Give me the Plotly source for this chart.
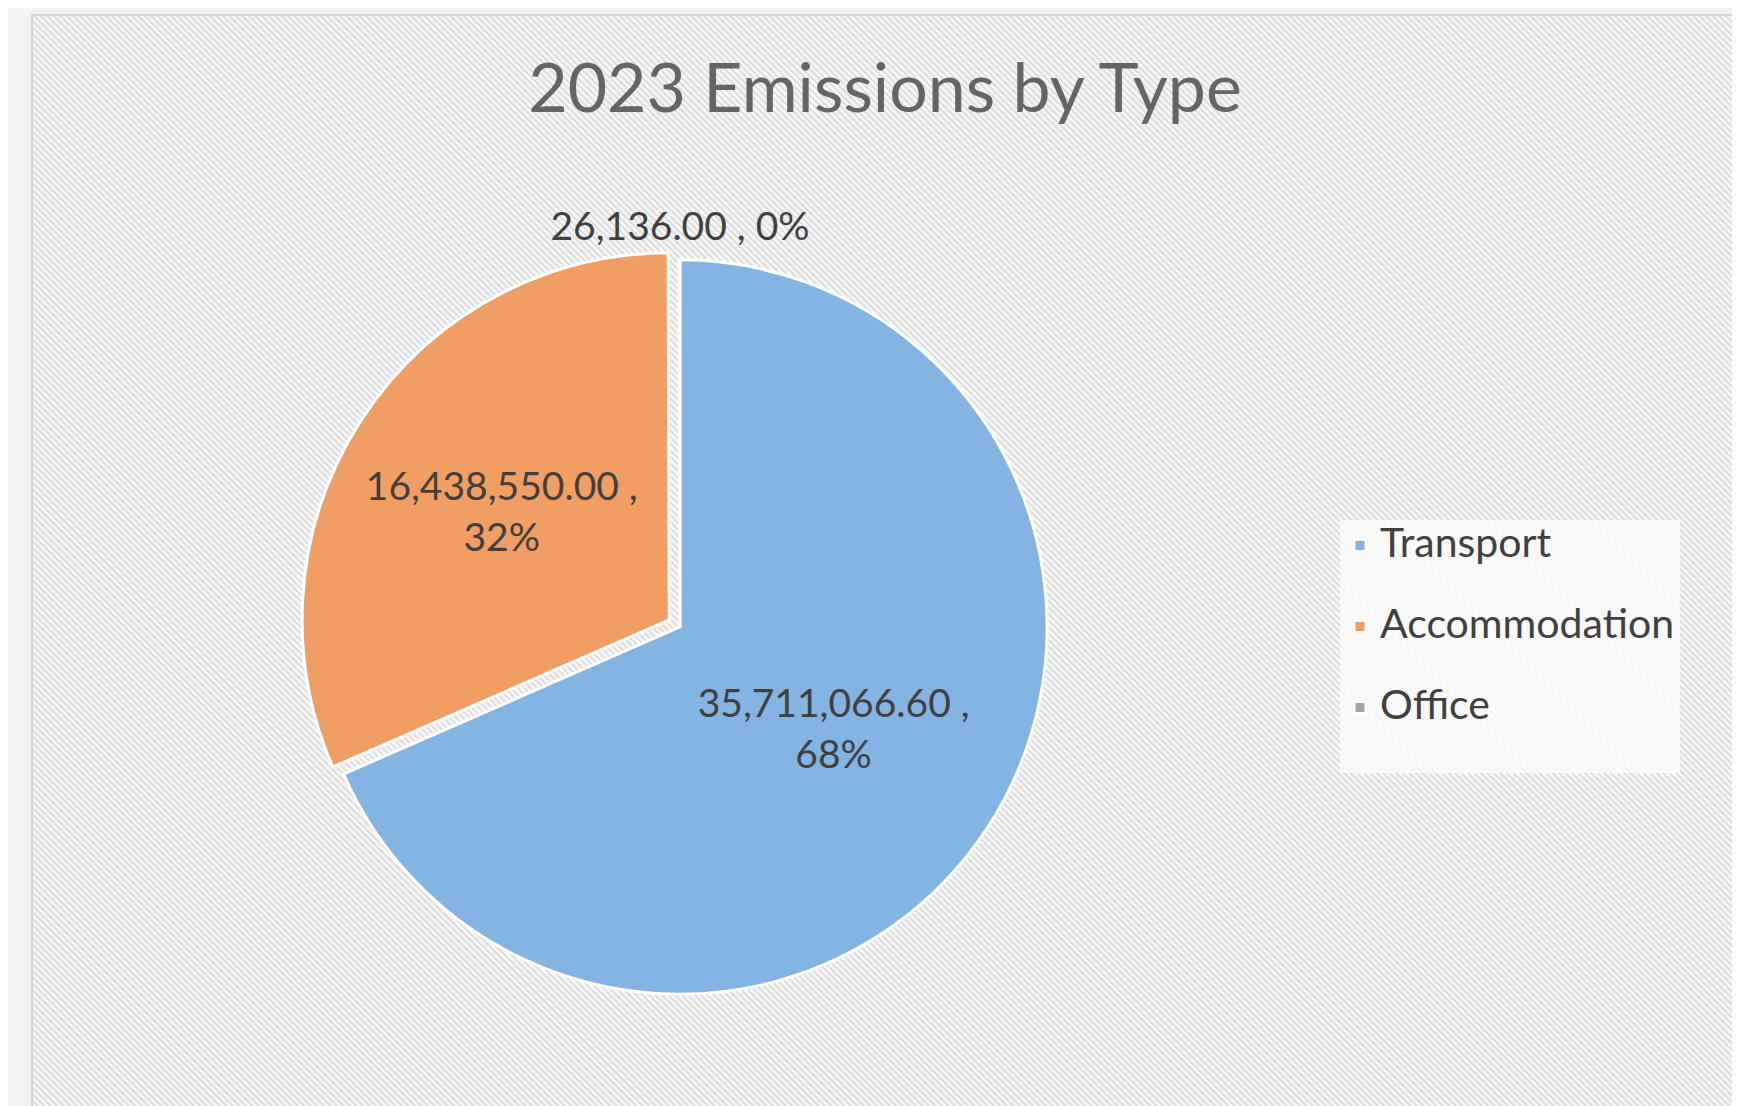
import base64
import plotly.graph_objects as go

# ---- data ----
labels = ["Transport", "Accommodation", "Office"]
values = [35711066.60, 16438550.00, 26136.00]
colors = ["#84b4e2", "#f19e64", "#a5a5a5"]
pulls = [0, 0.035, 0]
text_templates = [
    "%{value:,.2f} ,<br>%{percent:.0%}",
    "%{value:,.2f} ,<br>%{percent:.0%}",
    "",
]
text_positions = ["inside", "inside", "none"]
title_text = "2023 Emissions by Type"

W, H = 1740, 1106
FONT = "Lato, 'Open Sans', sans-serif"
TEXT_COL = "#404040"

# small-slice label (Office) built from the data, shown above the pie
total = sum(values)
office_label = f"{values[2]:,.2f} , {values[2] / total:.0%}"

# legend entries: larger first line + blank second line for Excel-like row spacing
legend_labels = [
    f"<span style='font-size:41px'>{lab}</span><br>\u00a0" for lab in labels
]

# hatched chart-area background (SVG data URI)
bg_w, bg_h = 1703, 1099
svg = (
    f"<svg xmlns='http://www.w3.org/2000/svg' width='{bg_w}' height='{bg_h}'>"
    "<defs><pattern id='p' width='4.6' height='4.6' patternUnits='userSpaceOnUse' "
    "patternTransform='rotate(-45)'>"
    "<rect width='4.6' height='4.6' fill='#f6f6f6'/>"
    "<rect width='1.8' height='4.6' fill='#dcdcdc'/>"
    "</pattern></defs>"
    f"<rect width='{bg_w}' height='{bg_h}' fill='url(#p)'/>"
    "</svg>"
)
svg_uri = "data:image/svg+xml;base64," + base64.b64encode(svg.encode()).decode()

fig = go.Figure(
    go.Pie(
        labels=legend_labels,
        values=values,
        customdata=labels,
        sort=False,
        direction="clockwise",
        rotation=0,
        pull=pulls,
        marker=dict(colors=colors, line=dict(color="#ffffff", width=3)),
        texttemplate=text_templates,
        textposition=text_positions,
        insidetextorientation="horizontal",
        textfont=dict(family=FONT, size=39, color=TEXT_COL),
        title=dict(
            text=office_label,
            position="top center",
            font=dict(family=FONT, size=39, color=TEXT_COL),
        ),
        domain=dict(x=[269 / W, 1075 / W], y=[1 - 999 / H, 1 - 193 / H]),
        showlegend=True,
        hovertemplate="%{customdata}<br>%{value:,.2f}<br>%{percent:.0%}<extra></extra>",
    )
)

fig.update_layout(
    width=W,
    height=H,
    margin=dict(l=0, r=0, t=0, b=0),
    paper_bgcolor="#f4f3f1",
    plot_bgcolor="rgba(0,0,0,0)",
    title=dict(
        text=title_text,
        x=877 / W,
        xanchor="center",
        y=1 - 80 / H,
        yanchor="middle",
        font=dict(family=FONT, size=68, color="#656565"),
    ),
    legend=dict(
        x=1332 / W,
        xanchor="left",
        y=1 - 638 / H,
        yanchor="middle",
        valign="top",
        bgcolor="rgba(250,250,250,0.85)",
        font=dict(family=FONT, size=30, color=TEXT_COL),
        itemwidth=30,
    ),
    images=[
        dict(
            source=svg_uri,
            xref="paper",
            yref="paper",
            x=24 / W,
            y=1 - 7 / H,
            sizex=bg_w / W,
            sizey=bg_h / H,
            xanchor="left",
            yanchor="top",
            sizing="stretch",
            layer="below",
        )
    ],
    shapes=[
        dict(
            type="rect",
            xref="paper",
            yref="paper",
            x0=24 / W,
            x1=1727 / W,
            y0=-0.01,
            y1=1 - 7 / H,
            line=dict(color="#d4d4d4", width=2),
            fillcolor="rgba(0,0,0,0)",
            layer="below",
        )
    ],
)

fig.write_html("out.html")
